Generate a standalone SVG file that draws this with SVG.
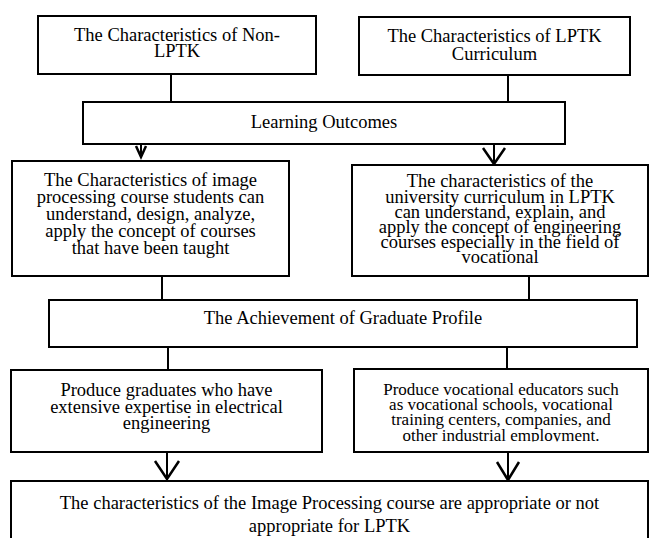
<svg xmlns="http://www.w3.org/2000/svg" width="649" height="538" viewBox="0 0 649 538">
<style>
.box{fill:#fff;stroke:#000;stroke-width:2}
.t{font-family:"Liberation Serif","Times New Roman",serif;font-size:18.5px;fill:#000;text-anchor:middle}
.s{font-size:17px}
.c line,.c polyline{stroke:#000;stroke-width:2;fill:none}
.c polyline{stroke-width:2.5;stroke-linejoin:miter}
</style>
<defs>
<clipPath id="clip6"><rect x="355" y="370" width="292" height="71.5"/></clipPath>
</defs>
<rect width="649" height="538" fill="#fff"/>
<g class="c" id="connectors">
<line x1="171" y1="74" x2="171" y2="102"/>
<line x1="508" y1="75" x2="508" y2="104"/>
<line x1="141" y1="144" x2="141" y2="158"/>
<polyline points="136,146 141,157 146,146"/>
<line x1="494" y1="144" x2="494" y2="165"/>
<polyline points="483,148 494,164 505,148"/>
<line x1="162" y1="276" x2="162" y2="300"/>
<line x1="529" y1="276" x2="529" y2="300"/>
<line x1="168" y1="345" x2="168" y2="370"/>
<line x1="507" y1="342" x2="507" y2="369"/>
<line x1="167" y1="452" x2="167" y2="480"/>
<polyline points="155,461 167,479 179,461"/>
<line x1="508" y1="452" x2="508" y2="481"/>
<polyline points="497,462 508,480 519,462"/>
</g>
<g id="n1">
<rect class="box" x="38" y="16" width="278" height="58"/>
<text class="t" x="177" y="41">The Characteristics of Non-</text>
<text class="t" x="177" y="57">LPTK</text>
</g>
<g id="n2">
<rect class="box" x="359" y="17" width="271" height="58"/>
<text class="t" x="494.5" y="42">The Characteristics of LPTK</text>
<text class="t" x="494.5" y="60">Curriculum</text>
</g>
<g id="n3">
<rect class="box" x="83" y="102" width="482" height="42"/>
<text class="t" x="324" y="128">Learning Outcomes</text>
</g>
<g id="n4">
<rect class="box" x="12" y="161" width="277" height="115"/>
<text class="t" x="150.5" y="186">The Characteristics of image</text>
<text class="t" x="150.5" y="203">processing course students can</text>
<text class="t" x="150.5" y="220">understand, design, analyze,</text>
<text class="t" x="150.5" y="237">apply the concept of courses</text>
<text class="t" x="150.5" y="253.5">that have been taught</text>
</g>
<g id="n5">
<rect class="box" x="352" y="165" width="296" height="111"/>
<text class="t" x="500" y="187">The characteristics of the</text>
<text class="t" x="500" y="203">university curriculum in LPTK</text>
<text class="t" x="500" y="217.5">can understand, explain, and</text>
<text class="t" x="500" y="233">apply the concept of engineering</text>
<text class="t" x="500" y="247.5">courses especially in the field of</text>
<text class="t" x="500" y="263">vocational</text>
</g>
<g id="n6">
<rect class="box" x="49" y="300" width="588" height="47"/>
<text class="t" x="343" y="324">The Achievement of Graduate Profile</text>
</g>
<g id="n7">
<rect class="box" x="11" y="370" width="311" height="82"/>
<text class="t" x="166.5" y="396">Produce graduates who have</text>
<text class="t" x="166.5" y="412.5">extensive expertise in electrical</text>
<text class="t" x="166.5" y="428.5">engineering</text>
</g>
<g id="n8">
<rect class="box" x="354" y="369" width="294" height="83"/>
<g clip-path="url(#clip6)">
<text class="t s" x="501" y="395">Produce vocational educators such</text>
<text class="t s" x="501" y="409.5">as vocational schools, vocational</text>
<text class="t s" x="501" y="425">training centers, companies, and</text>
<text class="t s" x="501" y="441">other industrial employment.</text>
</g>
</g>
<g id="n9">
<rect class="box" x="11" y="481" width="637" height="70"/>
<text class="t" x="329.5" y="508.5">The characteristics of the Image Processing course are appropriate or not</text>
<text class="t" x="329.5" y="532">appropriate for LPTK</text>
</g>
</svg>
